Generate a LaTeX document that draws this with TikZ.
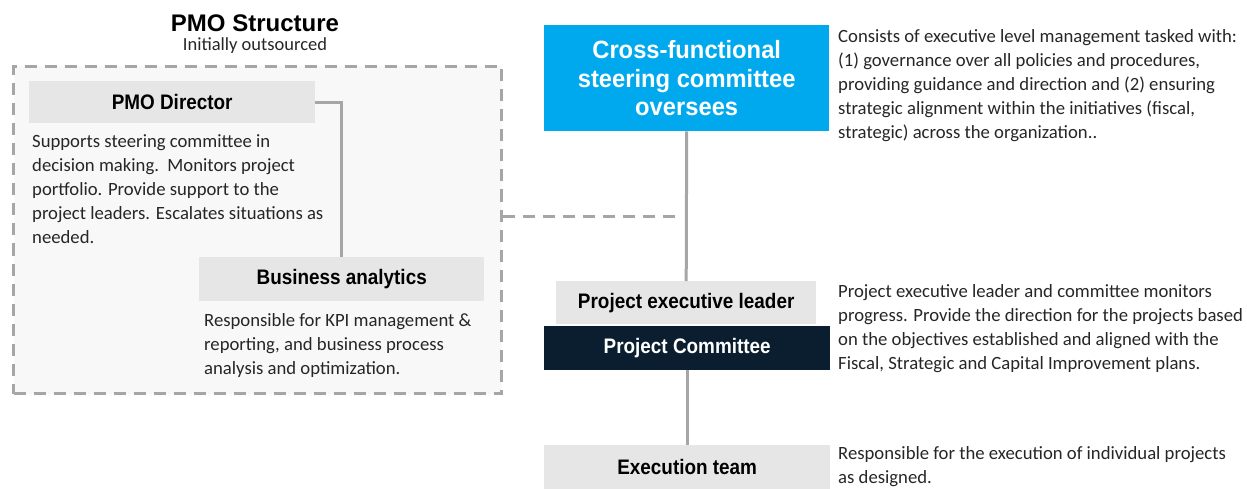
\documentclass[tikz,border=0pt]{standalone}
\usepackage{fontspec}
\setmainfont{Carlito}
\newfontfamily\headfont[FakeStretch=0.9]{Liberation Sans}
\newfontfamily\boxfont[FakeStretch=0.95]{Liberation Sans}
\newfontfamily\titlefont{Liberation Sans}
\usetikzlibrary{calc}

\definecolor{skyblue}{RGB}{0,169,238}
\definecolor{navy}{RGB}{10,30,48}
\definecolor{headgray}{RGB}{230,230,230}
\definecolor{panelgray}{RGB}{248,248,248}
\definecolor{linegray}{RGB}{166,166,166}
\definecolor{bodytext}{RGB}{38,38,38}

\begin{document}
\begin{tikzpicture}[x=1pt,y=-1pt,
  header/.style={fill=headgray, inner sep=0, anchor=north west,
    font=\headfont\bfseries\fontsize{21}{24}\selectfont, text=black},
  darkheader/.style={header, fill=navy, text=white},
  bodytxt/.style={inner sep=0, anchor=north west, align=left,
    font=\fontsize{18.7}{24}\selectfont, text=bodytext},
  link/.style={draw=linegray, line width=3pt},
  dashlink/.style={link, dash pattern=on 12pt off 8pt}]
\useasboundingbox (0,0) rectangle (1247,489);

% PMO panel
\node[fill=panelgray, draw=linegray, line width=3pt, dash pattern=on 12pt off 8pt,
  inner sep=0, anchor=north west, minimum width=488pt, minimum height=327pt] (pmo) at (12,65) {};
\node[font=\titlefont\bfseries\fontsize{24}{28}\selectfont] (title) at (255,23) {PMO Structure};
\node[font=\fontsize{18.5}{20}\selectfont, text=bodytext] (subtitle) at (255,46) {Initially outsourced};

\node[header, minimum width=286pt, minimum height=42pt] (director) at (29,81) {PMO Director};
\node[bodytxt] (directortxt) at (32,134) {Supports steering committee in\\decision making.\ \ Monitors project\\portfolio. Provide support to the\\project leaders. Escalates situations as\\needed.};

\node[header, minimum width=285pt, minimum height=44pt] (analytics) at (199,257) {Business analytics};
\node[bodytxt] (analyticstxt) at (204,313) {Responsible for KPI management \&\\reporting, and business process\\analysis and optimization.};

% Governance chain
\node[fill=skyblue, inner sep=0, anchor=north west, minimum width=285pt, minimum height=106pt,
  align=center, text=white, font=\boxfont\bfseries\fontsize{25}{28.5}\selectfont] (steer) at (544,25)
  {Cross-functional\\steering committee\\oversees};
\node[bodytxt] (steertxt) at (838,29) {Consists of executive level management tasked with:\\(1) governance over all policies and procedures,\\providing guidance and direction and (2) ensuring\\strategic alignment within the initiatives (fiscal,\\strategic) across the organization..};

\node[header, minimum width=260pt, minimum height=43pt] (leader) at (556,281) {Project executive leader};
\node[darkheader, minimum width=286pt, minimum height=44pt] (committee) at (544,326) {Project Committee};
\node[bodytxt] (leadertxt) at (838,284) {Project executive leader and committee monitors\\progress. Provide the direction for the projects based\\on the objectives established and aligned with the\\Fiscal, Strategic and Capital Improvement plans.};

\node[header, minimum width=286pt, minimum height=44pt] (exec) at (544,445) {Execution team};
\node[bodytxt] (exectxt) at (838,446) {Responsible for the execution of individual projects\\as designed.};

% Connectors
\draw[link] (director.east) -| (analytics.north);
\draw[link] (steer.south) -- (leader.north);
\draw[link] (committee.south) -- (exec.north);
\coordinate (tap) at ($(steer.south)+(0,85)$);
\draw[dashlink] (tap -| pmo.east) -- ($(tap)+(-8,0)$);
\end{tikzpicture}
\end{document}
